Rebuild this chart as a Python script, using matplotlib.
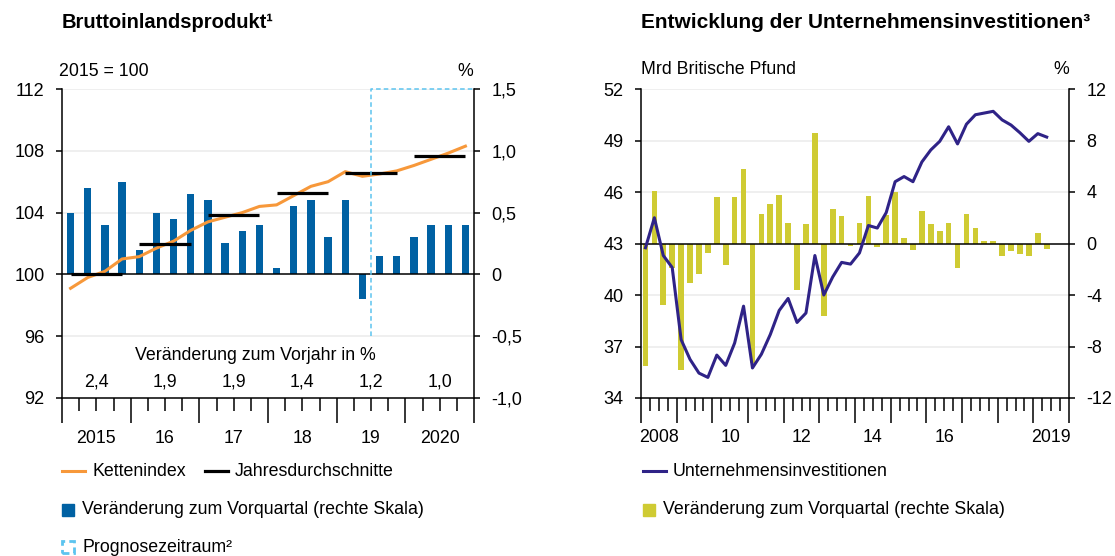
import matplotlib
matplotlib.use("Agg")
import matplotlib.pyplot as plt
from matplotlib.lines import Line2D
from matplotlib.patches import Rectangle
import numpy as np

plt.rcParams['font.family'] = ['Liberation Sans', 'DejaVu Sans']
plt.rcParams['font.size'] = 12.8
plt.rcParams['axes.unicode_minus'] = False

# --- Bruttoinlandsprodukt (2015Q1 - 2020Q4) ---
bip_index = [99.1, 99.8, 100.2, 101.0, 101.15, 101.7, 102.15, 102.85,
             103.4, 103.7, 104.0, 104.4, 104.5, 105.1, 105.7, 106.0,
             106.65, 106.35, 106.5, 106.7, 107.05, 107.45, 107.85, 108.3]
bip_qoq = [0.5, 0.7, 0.4, 0.75, 0.2, 0.5, 0.45, 0.65,
           0.6, 0.25, 0.35, 0.4, 0.05, 0.55, 0.6, 0.3,
           0.6, -0.2, 0.15, 0.15, 0.3, 0.4, 0.4, 0.4]
bip_annual = [100.0, 101.95, 103.85, 105.3, 106.55, 107.65]
bip_growth = ['2,4', '1,9', '1,9', '1,4', '1,2', '1,0']
bip_years = ['2015', '16', '17', '18', '19', '2020']
forecast_start = 18  # ab 2019Q3

# --- Unternehmensinvestitionen (2008Q1 - 2019Q2) ---
invest = [42.75, 44.5, 42.3, 41.6, 37.4, 36.25, 35.45, 35.2, 36.5, 35.9,
          37.2, 39.35, 35.75, 36.55, 37.7, 39.1, 39.8, 38.4, 38.95, 42.3,
          40.0, 41.05, 41.9, 41.8, 42.45, 44.05, 43.9, 44.8, 46.6, 46.9,
          46.6, 47.75, 48.45, 48.95, 49.8, 48.8, 49.95, 50.5, 50.6, 50.7,
          50.2, 49.9, 49.45, 48.95, 49.4, 49.2]
invest_qoq = [-9.5, 4.1, -4.8, -1.9, -9.8, -3.1, -2.4, -0.7, 3.6, -1.7,
              3.6, 5.8, -9.3, 2.3, 3.1, 3.8, 1.6, -3.6, 1.5, 8.6,
              -5.6, 2.7, 2.1, -0.2, 1.6, 3.7, -0.3, 2.2, 4.0, 0.4,
              -0.5, 2.5, 1.5, 1.0, 1.6, -1.9, 2.3, 1.2, 0.2, 0.2,
              -1.0, -0.6, -0.8, -1.0, 0.8, -0.4]
inv_year_labels = ['2008', '10', '12', '14', '16', '2019']
inv_year_pos = [0, 2, 4, 6, 8, 11]   # Jahre ab 2008
n_inv_years = 12

ORANGE = '#f7983a'
BLUE = '#0061a3'
PURPLE = '#2f2387'
YELLOW = '#cfcb33'
CYAN = '#5cc4ef'
GRID = '#ececec'

W, H = 1115, 556
fig = plt.figure(figsize=(W / 100, H / 100), dpi=100)


def fx(x):
    return x / W


def fy(y):
    return 1 - y / H


def style_axes(ax, axr, nq):
    for a in (ax, axr):
        a.spines['top'].set_visible(False)
        for s in ('left', 'right', 'bottom'):
            a.spines[s].set_linewidth(1.1)
    ax.spines['right'].set_visible(False)
    axr.spines['left'].set_visible(False)
    axr.spines['bottom'].set_visible(False)
    ax.set_xlim(0, nq)
    ax.set_xticks(np.arange(0, nq + 1, 4))
    ax.set_xticks(np.arange(0, nq + 1, 1), minor=True)
    ax.tick_params(axis='x', which='major', length=18, width=1.1, labelbottom=False)
    ax.tick_params(axis='x', which='minor', length=9.5, width=1.1)
    ax.tick_params(axis='y', length=4.5, width=1.1, pad=8, labelsize=13)
    axr.tick_params(axis='y', length=4.5, width=1.1, pad=8, labelsize=13)
    ax.set_zorder(axr.get_zorder() + 1)
    ax.patch.set_visible(False)


# ---------------- linkes Diagramm ----------------
ax = fig.add_axes([fx(62), fy(398), fx(412), 309 / H])
axr = ax.twinx()
nq = len(bip_index)
xq = np.arange(nq) + 0.5

axr.set_ylim(-1.0, 1.5)
for g in [1.5, 1.0, 0.5, -0.5]:
    axr.axhline(g, color=GRID, lw=1.2, zorder=0)
axr.bar(xq, bip_qoq, width=0.42, color=BLUE, zorder=2)
axr.axhline(0, color='black', lw=1.1, zorder=3)
axr.set_yticks([-1.0, -0.5, 0, 0.5, 1.0, 1.5])
axr.set_yticklabels(['-1,0', '-0,5', '0', '0,5', '1,0', '1,5'])

ax.set_ylim(92, 112)
ax.set_yticks(np.arange(92, 113, 4))
ax.plot(xq, bip_index, color=ORANGE, lw=2.2, zorder=3)
for k, v in enumerate(bip_annual):
    ax.hlines(v, 4 * k + 0.5, 4 * k + 3.5, color='black', lw=2.3, zorder=4)
ax.plot([forecast_start, forecast_start, nq], [96, 112, 112], color=CYAN,
        lw=1.1, dashes=(3, 2), zorder=5, clip_on=False)
style_axes(ax, axr, nq)

ax.text(0.47, 0.136, 'Veränderung zum Vorjahr in %', transform=ax.transAxes,
        ha='center', va='center')
for k, (g, yl) in enumerate(zip(bip_growth, bip_years)):
    ax.text(4 * k + 2, 0.052, g, transform=ax.get_xaxis_transform(),
            ha='center', va='center')
    ax.text(4 * k + 2, -0.13, yl, transform=ax.get_xaxis_transform(),
            ha='center', va='center')

# ---------------- rechtes Diagramm ----------------
bx = fig.add_axes([fx(641), fy(398), fx(428), 309 / H])
bxr = bx.twinx()
nq2 = n_inv_years * 4
xq2 = np.arange(len(invest)) + 0.5

bxr.set_ylim(-12, 12)
for g in [12, 8, 4, -4, -8]:
    bxr.axhline(g, color=GRID, lw=1.2, zorder=0)
bxr.bar(xq2, invest_qoq, width=0.64, color=YELLOW, zorder=2)
bxr.axhline(0, color='black', lw=1.1, zorder=3)
bxr.set_yticks(np.arange(-12, 13, 4))

bx.set_ylim(34, 52)
bx.set_yticks(np.arange(34, 53, 3))
bx.plot(xq2, invest, color=PURPLE, lw=2.2, zorder=3)
style_axes(bx, bxr, nq2)
for yl, p in zip(inv_year_labels, inv_year_pos):
    bx.text(4 * p + 2, -0.128, yl, transform=bx.get_xaxis_transform(),
            ha='center', va='center')

# ---------------- Titel, Einheiten ----------------
fig.text(fx(62), fy(22), 'Bruttoinlandsprodukt¹', fontsize=14.5,
         fontweight='bold', va='center')
fig.text(fx(641), fy(22), 'Entwicklung der Unternehmensinvestitionen³',
         fontsize=15, fontweight='bold', va='center')
fig.text(fx(59), fy(71), '2015 = 100', va='center')
fig.text(fx(473), fy(71), '%', va='center', ha='right')
fig.text(fx(641), fy(70), 'Mrd Britische Pfund', va='center')
fig.text(fx(1069), fy(70), '%', va='center', ha='right')

# ---------------- Legenden ----------------
def leg_line(x0, y, color, label, lw=2.2):
    fig.add_artist(Line2D([fx(x0), fx(x0 + 23)], [fy(y), fy(y)], color=color, lw=lw))
    fig.text(fx(x0 + 30), fy(y), label, va='center')


def leg_box(x0, y, color, label):
    fig.add_artist(Rectangle((fx(x0), fy(y + 6)), fx(12), 12 / H, color=color))
    fig.text(fx(x0 + 20), fy(y), label, va='center')


leg_line(62, 471, ORANGE, 'Kettenindex')
leg_line(205, 471, 'black', 'Jahresdurchschnitte', lw=2.3)
leg_box(62, 510, BLUE, 'Veränderung zum Vorquartal (rechte Skala)')
fig.add_artist(Rectangle((fx(62), fy(553)), fx(12), 12 / H, fill=False,
                         edgecolor=CYAN, lw=2.0, linestyle=(0, (2.5, 1.5))))
fig.text(fx(82), fy(547), 'Prognosezeitraum²', va='center')

leg_line(643, 471, PURPLE, 'Unternehmensinvestitionen')
leg_box(643, 510, YELLOW, 'Veränderung zum Vorquartal (rechte Skala)')

fig.savefig('out.png', dpi=100)
